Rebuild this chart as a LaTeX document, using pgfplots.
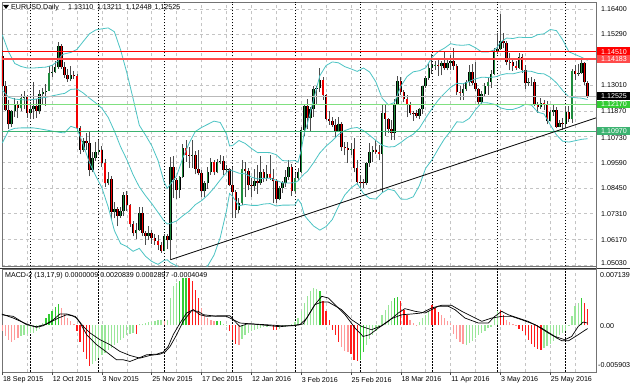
\documentclass[border=0pt]{standalone}
\usepackage{pgfplots}
\pgfplotsset{compat=1.18}
\usepackage{pgfplotstable}
\usepackage{fontspec}
\setmainfont{Liberation Sans}
\definecolor{gridc}{HTML}{C4C4C4}
\definecolor{bbc}{HTML}{4CC4C4}
\definecolor{upc}{HTML}{1E8C3C}
\definecolor{dnc}{HTML}{F00000}
\definecolor{hG}{HTML}{33CC33}
\definecolor{hg}{HTML}{99E699}
\definecolor{hR}{HTML}{FF1A1A}
\definecolor{hr}{HTML}{FF9A9A}
\definecolor{gline1}{HTML}{80E080}
\definecolor{gline2}{HTML}{3CB371}
\definecolor{lvlred}{HTML}{FF0000}
\definecolor{lvlred2}{HTML}{FF4A4A}

\pgfplotstableread{
i o h l c
0 1.1433 1.1460 1.1293 1.1300
1 1.1300 1.1320 1.1185 1.1193
2 1.1193 1.1235 1.1105 1.1128
3 1.1128 1.1190 1.1115 1.1187
4 1.1187 1.1245 1.1160 1.1218
5 1.1218 1.1230 1.1155 1.1199
6 1.1199 1.1262 1.1185 1.1244
7 1.1244 1.1277 1.1196 1.1254
8 1.1254 1.1258 1.1158 1.1177
9 1.1177 1.1226 1.1151 1.1195
10 1.1195 1.1318 1.1150 1.1210
11 1.1210 1.1240 1.1158 1.1188
12 1.1188 1.1280 1.1175 1.1263
13 1.1263 1.1290 1.1215 1.1273
14 1.1273 1.1305 1.1210 1.1277
15 1.1277 1.1385 1.1275 1.1358
16 1.1358 1.1392 1.1340 1.1359
17 1.1359 1.1410 1.1355 1.1381
18 1.1381 1.1495 1.1375 1.1474
19 1.1474 1.1485 1.1375 1.1381
20 1.1381 1.1405 1.1335 1.1348
21 1.1348 1.1375 1.1318 1.1327
22 1.1327 1.1386 1.1320 1.1345
23 1.1345 1.1364 1.1330 1.1343
24 1.1343 1.1352 1.1100 1.1110
25 1.1110 1.1122 1.0995 1.1016
26 1.1016 1.1068 1.1005 1.1056
27 1.1056 1.1090 1.1016 1.1046
28 1.1046 1.1095 1.0897 1.0925
29 1.0925 1.1005 1.0915 1.0979
30 1.0979 1.1050 1.0965 1.1005
31 1.1005 1.1060 1.0990 1.1016
32 1.1016 1.1030 1.0938 1.0957
33 1.0957 1.0975 1.0850 1.0866
34 1.0866 1.0915 1.0858 1.0884
35 1.0884 1.0897 1.0705 1.0739
36 1.0739 1.0784 1.0710 1.0752
37 1.0752 1.0762 1.0675 1.0722
38 1.0722 1.0762 1.0712 1.0742
39 1.0742 1.0829 1.0720 1.0812
40 1.0812 1.0830 1.0745 1.0770
41 1.0770 1.0775 1.0674 1.0685
42 1.0685 1.0700 1.0630 1.0644
43 1.0644 1.0690 1.0617 1.0657
44 1.0657 1.0762 1.0655 1.0733
45 1.0733 1.0760 1.0630 1.0645
46 1.0645 1.0655 1.0592 1.0634
47 1.0634 1.0675 1.0614 1.0646
48 1.0646 1.0660 1.0598 1.0623
49 1.0623 1.0640 1.0592 1.0611
50 1.0611 1.0637 1.0570 1.0592
51 1.0592 1.0605 1.0558 1.0565
52 1.0565 1.0640 1.0565 1.0630
53 1.0630 1.0640 1.0576 1.0613
54 1.0613 1.0982 1.0524 1.0940
55 1.0940 1.0985 1.0800 1.0880
56 1.0880 1.0890 1.0797 1.0836
57 1.0836 1.0900 1.0801 1.0894
58 1.0894 1.1042 1.0890 1.1022
59 1.1022 1.1059 1.0960 1.0993
60 1.0993 1.1027 1.0935 1.0990
61 1.0990 1.1058 1.0935 1.0993
62 1.0993 1.1011 1.0906 1.0930
63 1.0930 1.1012 1.0901 1.0910
64 1.0910 1.0925 1.0806 1.0830
65 1.0830 1.0875 1.0805 1.0867
66 1.0867 1.0940 1.0840 1.0918
67 1.0918 1.0980 1.0905 1.0960
68 1.0960 1.0970 1.0902 1.0915
69 1.0915 1.0975 1.0910 1.0962
70 1.0962 1.0990 1.0952 1.0967
71 1.0967 1.0988 1.0905 1.0927
72 1.0927 1.0948 1.0914 1.0930
73 1.0930 1.0935 1.0852 1.0859
74 1.0859 1.0940 1.0710 1.0828
75 1.0828 1.0834 1.0711 1.0746
76 1.0746 1.0799 1.0732 1.0778
77 1.0778 1.0971 1.0770 1.0930
78 1.0930 1.0960 1.0805 1.0921
79 1.0921 1.0935 1.0835 1.0858
80 1.0858 1.0890 1.0805 1.0853
81 1.0853 1.0930 1.0832 1.0876
82 1.0876 1.0947 1.0820 1.0867
83 1.0867 1.0985 1.0860 1.0915
84 1.0915 1.0930 1.0870 1.0890
85 1.0890 1.0946 1.0874 1.0907
86 1.0907 1.0990 1.0880 1.0891
87 1.0891 1.0928 1.0778 1.0875
88 1.0875 1.0887 1.0780 1.0797
89 1.0797 1.0855 1.0790 1.0847
90 1.0847 1.0876 1.0822 1.0867
91 1.0867 1.0925 1.0850 1.0894
92 1.0894 1.0970 1.0880 1.0940
93 1.0940 1.0950 1.0810 1.0830
94 1.0830 1.0910 1.0820 1.0888
95 1.0888 1.0935 1.0875 1.0918
96 1.0918 1.1117 1.0910 1.1104
97 1.1104 1.1215 1.1075 1.1211
98 1.1211 1.1240 1.1105 1.1155
99 1.1155 1.1205 1.1095 1.1195
100 1.1195 1.1297 1.1160 1.1285
101 1.1285 1.1300 1.1217 1.1288
102 1.1288 1.1376 1.1270 1.1325
103 1.1325 1.1340 1.1238 1.1257
104 1.1257 1.1262 1.1145 1.1153
105 1.1153 1.1188 1.1125 1.1144
106 1.1144 1.1160 1.1115 1.1127
107 1.1127 1.1150 1.1067 1.1099
108 1.1099 1.1160 1.1095 1.1130
109 1.1130 1.1140 1.1010 1.1026
110 1.1026 1.1048 1.0990 1.1021
111 1.1021 1.1050 1.0958 1.1016
112 1.1016 1.1045 1.0990 1.1019
113 1.1019 1.1068 1.0915 1.0933
114 1.0933 1.0968 1.0860 1.0873
115 1.0873 1.0903 1.0845 1.0870
116 1.0870 1.0883 1.0844 1.0866
117 1.0866 1.0962 1.0860 1.0956
118 1.0956 1.1044 1.0940 1.1004
119 1.1004 1.1030 1.0960 1.1015
120 1.1015 1.1060 1.0995 1.1006
121 1.1006 1.1035 1.0968 1.0996
122 1.0996 1.1218 1.0822 1.1178
123 1.1178 1.1218 1.1077 1.1152
124 1.1152 1.1155 1.1090 1.1105
125 1.1105 1.1148 1.1060 1.1090
126 1.1090 1.1242 1.1058 1.1220
127 1.1220 1.1342 1.1215 1.1321
128 1.1321 1.1340 1.1258 1.1270
129 1.1270 1.1280 1.1225 1.1240
130 1.1240 1.1260 1.1160 1.1220
131 1.1220 1.1225 1.1170 1.1180
132 1.1180 1.1185 1.1144 1.1178
133 1.1178 1.1190 1.1155 1.1165
134 1.1165 1.1200 1.1150 1.1196
135 1.1196 1.1298 1.1175 1.1296
136 1.1296 1.1342 1.1290 1.1333
137 1.1333 1.1400 1.1325 1.1380
138 1.1380 1.1438 1.1350 1.1392
139 1.1392 1.1410 1.1370 1.1393
140 1.1393 1.1418 1.1343 1.1386
141 1.1386 1.1410 1.1345 1.1399
142 1.1399 1.1453 1.1370 1.1376
143 1.1376 1.1420 1.1368 1.1398
144 1.1398 1.1436 1.1370 1.1411
145 1.1411 1.1465 1.1370 1.1387
146 1.1387 1.1394 1.1260 1.1271
147 1.1271 1.1300 1.1234 1.1269
148 1.1269 1.1310 1.1235 1.1283
149 1.1283 1.1325 1.1275 1.1314
150 1.1314 1.1390 1.1300 1.1361
151 1.1361 1.1395 1.1301 1.1311
152 1.1311 1.1405 1.1275 1.1285
153 1.1285 1.1290 1.1215 1.1225
154 1.1225 1.1275 1.1220 1.1264
155 1.1264 1.1310 1.1255 1.1299
156 1.1299 1.1335 1.1260 1.1315
157 1.1315 1.1370 1.1290 1.1353
158 1.1353 1.1465 1.1345 1.1453
159 1.1453 1.1535 1.1440 1.1462
160 1.1462 1.1616 1.1460 1.1497
161 1.1497 1.1535 1.1465 1.1490
162 1.1490 1.1497 1.1390 1.1404
163 1.1404 1.1445 1.1368 1.1403
164 1.1403 1.1418 1.1365 1.1385
165 1.1385 1.1410 1.1370 1.1380
166 1.1380 1.1445 1.1375 1.1428
167 1.1428 1.1440 1.1355 1.1368
168 1.1368 1.1390 1.1285 1.1310
169 1.1310 1.1335 1.1297 1.1314
170 1.1314 1.1340 1.1297 1.1314
171 1.1314 1.1330 1.1210 1.1219
172 1.1219 1.1229 1.1180 1.1203
173 1.1203 1.1245 1.1195 1.1223
174 1.1223 1.1236 1.1190 1.1218
175 1.1218 1.1231 1.1128 1.1141
176 1.1141 1.1190 1.1141 1.1181
177 1.1181 1.1215 1.1165 1.1192
178 1.1192 1.1205 1.1110 1.1115
179 1.1115 1.1148 1.1115 1.1135
180 1.1135 1.1155 1.1104 1.1131
181 1.1131 1.1210 1.1110 1.1182
182 1.1182 1.1210 1.1140 1.1151
183 1.1151 1.1375 1.1135 1.1366
184 1.1366 1.1392 1.1325 1.1353
185 1.1353 1.1395 1.1342 1.1357
186 1.1357 1.1416 1.1352 1.1398
187 1.1398 1.1405 1.1301 1.1314
188 1.1311 1.1321 1.1245 1.12525
}\ohlc

\pgfplotstableread{
i u m l
0 1.1525 1.1280 1.1045
2 1.1450 1.1248 1.1100
4 1.1398 1.1240 1.1110
6 1.1385 1.1237 1.1112
8 1.1378 1.1236 1.1112
10 1.1378 1.1238 1.1112
12 1.1380 1.1243 1.1108
14 1.1382 1.1248 1.1103
16 1.1390 1.1254 1.1098
18 1.1410 1.1260 1.1093
19 1.1435 1.1263 1.1091
20 1.1441 1.1265 1.1090
22 1.1447 1.1283 1.1119
24 1.1461 1.1285 1.1110
26 1.1496 1.1267 1.1037
28 1.1530 1.1244 1.0958
30 1.1547 1.1223 1.0899
32 1.1552 1.1199 1.0846
34 1.1556 1.1159 1.0761
36 1.1539 1.1098 1.0656
38 1.1458 1.1028 1.0598
40 1.1357 1.0971 1.0585
42 1.1243 1.0904 1.0564
44 1.1124 1.0850 1.0577
46 1.1080 1.0811 1.0542
48 1.1033 1.0776 1.0519
50 1.0968 1.0737 1.0506
52 1.0871 1.0698 1.0524
53 1.0844 1.0685 1.0526
54 1.0862 1.0688 1.0514
56 1.0899 1.0699 1.0499
58 1.0979 1.0722 1.0464
60 1.1044 1.0742 1.0439
62 1.1096 1.0771 1.0447
64 1.1114 1.0789 1.0464
66 1.1128 1.0814 1.0500
68 1.1142 1.0845 1.0547
70 1.1136 1.0881 1.0625
72 1.1085 1.0914 1.0743
73 1.1032 1.0926 1.0821
74 1.1034 1.0921 1.0807
76 1.1056 1.0911 1.0766
78 1.1043 1.0908 1.0772
80 1.1021 1.0894 1.0768
82 1.1002 1.0885 1.0768
84 1.1003 1.0888 1.0774
86 1.1002 1.0889 1.0776
88 1.0993 1.0879 1.0765
90 1.0967 1.0868 1.0769
92 1.0965 1.0867 1.0769
94 1.0967 1.0869 1.0770
95 1.0960 1.0877 1.0795
96 1.1012 1.0893 1.0775
97 1.1090 1.0908 1.0725
98 1.1131 1.0919 1.0707
100 1.1239 1.0958 1.0676
102 1.1344 1.1001 1.0658
104 1.1389 1.1031 1.0674
106 1.1405 1.1055 1.0705
108 1.1401 1.1083 1.0764
110 1.1384 1.1100 1.0814
112 1.1374 1.1110 1.0845
114 1.1363 1.1114 1.0865
116 1.1378 1.1100 1.0821
118 1.1360 1.1079 1.0799
120 1.1316 1.1056 1.0796
122 1.1244 1.1035 1.0824
124 1.1214 1.1027 1.0840
126 1.1225 1.1029 1.0833
128 1.1297 1.1047 1.0796
130 1.1340 1.1068 1.0795
132 1.1361 1.1084 1.0806
134 1.1366 1.1111 1.0857
136 1.1379 1.1156 1.0933
138 1.1424 1.1197 1.0970
140 1.1451 1.1235 1.1018
142 1.1466 1.1265 1.1063
144 1.1486 1.1292 1.1098
146 1.1480 1.1310 1.1139
148 1.1479 1.1308 1.1137
150 1.1482 1.1318 1.1154
152 1.1468 1.1330 1.1193
154 1.1449 1.1337 1.1224
156 1.1449 1.1336 1.1223
158 1.1458 1.1338 1.1217
159 1.1471 1.1341 1.1211
160 1.1492 1.1347 1.1201
162 1.1511 1.1353 1.1194
164 1.1509 1.1352 1.1194
166 1.1515 1.1359 1.1203
168 1.1513 1.1365 1.1217
170 1.1513 1.1363 1.1213
172 1.1526 1.1354 1.1182
174 1.1530 1.1352 1.1174
176 1.1549 1.1337 1.1126
178 1.1544 1.1312 1.1081
180 1.1503 1.1278 1.1053
182 1.1450 1.1250 1.1049
184 1.1438 1.1246 1.1055
186 1.1426 1.1244 1.1061
188 1.1412 1.1238 1.1064
}\bb

\begin{document}
\begin{tikzpicture}[x=1pt,y=1pt,font=\fontsize{7.1}{8}\selectfont]
\fill[white] (0,0) rectangle (630,388);
% ---------------- main price panel
\begin{axis}[
  at={(2pt,121.5pt)}, anchor=south west,
  clip bounding box=upper bound,
  scale only axis, width=594pt, height=264.5pt,
  xmin=-0.1, xmax=190.7, ymin=1.04965, ymax=1.16711,
  axis line style={draw=black!55, line width=0.8pt},
  xtick={0,8,...,184}, xticklabels={},
  ytick={1.0503,1.0617,1.0731,1.0845,1.0959,1.1073,1.1187,1.1301,1.1415,1.1529,1.1640},
  yticklabels={},
  major tick length=0pt,
  xmajorgrids, ymajorgrids,
  grid style={gridc, dash pattern=on 3pt off 3pt, line width=0.6pt},
  extra x ticks={9,31,52,74,94,115,138,159,181}, extra x tick labels={},
  extra x tick style={grid style={black, dash pattern=on 1.5pt off 1.5pt, line width=0.7pt}},
]
% wicks
\addplot[black!70, line width=0.9pt, mark=none, quiver={u=0, v={\thisrow{h}-\thisrow{l}}}]
  table[x=i, y=l] {\ohlc};
% body outline
\addplot[black, line width=2.5pt, mark=none, quiver={u=0, v={abs(\thisrow{c}-\thisrow{o})}}]
  table[x=i, y expr={min(\thisrow{o},\thisrow{c})}] {\ohlc};
% red fill (all)
\addplot[dnc, line width=1.1pt, mark=none, quiver={u=0, v={abs(\thisrow{c}-\thisrow{o})}}]
  table[x=i, y expr={min(\thisrow{o},\thisrow{c})}] {\ohlc};
% green fill (up candles)
\addplot[upc, line width=1.1pt, mark=none, quiver={u=0, v={max(\thisrow{c}-\thisrow{o},0)}}]
  table[x=i, y=o] {\ohlc};
% Bollinger
\addplot[bbc, line width=0.8pt] table[x=i,y=u] {\bb};
\addplot[bbc, line width=0.8pt] table[x=i,y=m] {\bb};
\addplot[bbc, line width=0.8pt] table[x=i,y=l] {\bb};
% horizontal levels
\addplot[draw=gray!55, line width=0.8pt] coordinates {(-0.1,1.12525) (190.7,1.12525)};
\addplot[draw=gline1, line width=1.4pt] coordinates {(-0.1,1.12170) (190.7,1.12170)};
\addplot[draw=gline2, line width=1.1pt] coordinates {(-0.1,1.10970) (190.7,1.10970)};
\addplot[draw=lvlred2, line width=1.5pt] coordinates {(-0.1,1.14183) (190.7,1.14183)};
\addplot[draw=lvlred, line width=1.0pt] coordinates {(-0.1,1.14510) (190.7,1.14510)};
% trend line
\addplot[black, line width=0.8pt] coordinates {(54.1,1.05269) (190.7,1.11566)};
\end{axis}

% ---------------- MACD panel
\begin{axis}[
  at={(2pt,16pt)}, anchor=south west,
  clip bounding box=upper bound,
  scale only axis, width=594pt, height=103pt,
  xmin=-0.1, xmax=190.7, ymin=-0.005903, ymax=0.007139,
  axis line style={draw=black!55, line width=0.8pt},
  xtick={0,8,...,184}, xticklabels={},
  ytick=\empty,
  major tick length=0pt,
  xmajorgrids,
  grid style={gridc, dash pattern=on 3pt off 3pt, line width=0.6pt},
  extra x ticks={9,31,52,74,94,115,138,159,181}, extra x tick labels={},
  extra x tick style={grid style={black, dash pattern=on 1.5pt off 1.5pt, line width=0.7pt}},
]
\addplot[ycomb, hr, line width=1.3pt] coordinates {
(0,-0.00072)(1,-0.00135)(2,-0.00190)(3,-0.00207)(4,-0.00190)(5,-0.00165)
(19,0.00224)(20,0.00148)(21,0.00097)(22,0.00055)(23,0.00021)
(52,0.00055)(64,0.00220)(65,0.00135)(66,0.00093)(67,0.00072)(68,0.00051)(76,-0.00254)
(109,-0.00279)(110,-0.00321)(111,-0.00338)(131,0.00072)(132,0.00030)(133,0.00008)
(141,0.00127)(142,0.00093)(143,0.00059)(144,0.00030)(145,-0.00110)(146,-0.00169)(147,-0.00212)(148,-0.00237)
(162,0.00072)(163,0.00042)(164,0.00017)(165,-0.00008)};
\addplot[ycomb, hR, line width=1.3pt] coordinates {
(24,-0.00072)(25,-0.00207)(26,-0.00334)(27,-0.00431)(28,-0.00516)(43,-0.00114)
(60,0.00601)(61,0.00558)(62,0.00453)(63,0.00347)(73,-0.00076)(74,-0.00182)(75,-0.00237)
(87,-0.00055)(88,-0.00063)(103,0.00305)(104,0.00178)(105,0.00072)(106,-0.00055)(107,-0.00127)(108,-0.00212)
(112,-0.00364)(113,-0.00436)(114,-0.00457)(128,0.00305)(129,0.00199)(130,0.00135)
(138,0.00262)(139,0.00220)(140,0.00169)(160,0.00199)(161,0.00135)
(166,-0.00042)(167,-0.00076)(168,-0.00127)(169,-0.00182)(170,-0.00237)(171,-0.00279)(172,-0.00296)(173,-0.00309)
(187,0.00283)(188,0.00208)};
\addplot[ycomb, hg, line width=1.3pt] coordinates {
(6,-0.00135)(7,-0.00123)(8,-0.00114)(9,-0.00093)(10,-0.00093)(11,-0.00072)(12,-0.00051)(13,0.00034)
(29,-0.00486)(30,-0.00453)(31,-0.00410)(32,-0.00376)(33,-0.00347)(34,-0.00317)(35,-0.00283)(36,-0.00254)
(37,-0.00224)(38,-0.00190)(39,-0.00157)(40,-0.00123)(41,-0.00106)(42,-0.00097)
(44,0.00013)(45,0.00021)(46,0.00030)(47,0.00038)(48,0.00047)(49,0.00055)(50,0.00063)(51,0.00072)(53,0.00072)
(54,0.00347)(55,0.00495)(56,0.00537)(71,0.00017)(72,0.00004)
(77,-0.00169)(78,-0.00118)(79,-0.00097)(80,-0.00076)(81,-0.00059)(82,-0.00047)(83,-0.00034)(84,-0.00025)(85,-0.00017)(86,-0.00008)
(89,-0.00042)(90,-0.00025)(91,-0.00017)(92,-0.00004)(93,0.00017)(94,0.00042)(95,0.00093)(96,0.00178)(97,0.00283)(98,0.00368)(99,0.00431)(100,0.00474)(101,0.00465)
(117,-0.00245)(118,-0.00169)(119,-0.00118)(120,-0.00076)(121,-0.00034)(122,0.00135)(123,0.00199)(124,0.00262)(125,0.00313)
(134,0.00042)(135,0.00093)(136,0.00135)(137,0.00178)
(149,-0.00245)(150,-0.00224)(151,-0.00195)(152,-0.00161)(153,-0.00127)(154,-0.00097)(155,-0.00068)(156,-0.00034)(157,-0.00017)(158,0.00093)(159,0.00178)
(174,-0.00288)(175,-0.00266)(176,-0.00237)(177,-0.00203)(178,-0.00169)(179,-0.00127)(180,-0.00097)(181,-0.00068)(182,-0.00013)(183,0.00114)(184,0.00241)(185,0.00283)};
\addplot[ycomb, hG, line width=1.3pt] coordinates {
(14,0.00097)(15,0.00140)(16,0.00182)(17,0.00233)(18,0.00267)(57,0.00558)(58,0.00601)(59,0.00601)
(69,0.00059)(70,0.00051)(102,0.00440)(115,-0.00436)(116,-0.00338)(126,0.00347)(127,0.00355)(186,0.00347)};
% MACD lines
\addplot[black, line width=0.7pt] coordinates {
(-0.2,0.00144)(3.5,0.00093)(7.8,0.00017)(11,-0.00025)(13.2,-0.00004)(16.4,0.00072)(18.5,0.00144)(20.7,0.00144)
(22.3,0.00127)(23.9,0.00093)(26,-0.00013)(28.2,-0.00097)(31.4,-0.00182)(34.6,-0.00245)(37.8,-0.00330)(41,-0.00381)
(44.2,-0.00415)(47.4,-0.00381)(50.7,-0.00364)(52.3,-0.00338)(53.9,-0.00266)(56,-0.00118)(58.1,0.00051)(60.8,0.00186)
(62.9,0.00178)(64.6,0.00135)(68.9,0.00114)(72,0.00114)(74.2,0.00072)(76.3,0.00030)(80.6,0.00017)(84.9,0.00008)
(89.2,-0.00004)(93.5,-0.00004)(95.6,0.00008)(97.8,0.00093)(100.4,0.00262)(102.6,0.00368)(104.7,0.00347)(106.9,0.00262)
(110.1,0.00135)(113.3,-0.00034)(115.9,-0.00140)(118,-0.00118)(120.8,-0.00034)(124,0.00051)(127.2,0.00157)(129.3,0.00212)
(132.6,0.00178)(135.8,0.00157)(137.9,0.00199)(140,0.00241)(143.3,0.00241)(145.4,0.00199)(148.6,0.00093)(152.9,0.00030)
(156.1,0.00030)(158.2,0.00114)(160.4,0.00178)(162.5,0.00135)(165.7,0.00093)(168.9,0.00051)(173.2,-0.00034)(177.5,-0.00140)
(180.7,-0.00182)(182.9,-0.00140)(185,-0.00013)(186.6,0.00042)(188,0.00029)};
\addplot[black, line width=0.7pt] coordinates {
(-0.2,0.00135)(3.5,0.00114)(7.8,0.00008)(11,-0.00017)(14.3,0.00017)(18,0.00093)(20.7,0.00135)(23.4,0.00114)
(25,0.00030)(27.1,-0.00118)(30.3,-0.00245)(33.5,-0.00338)(36.7,-0.00436)(38.9,-0.00436)(41,-0.00457)(43.2,-0.00423)
(46.4,-0.00372)(49.6,-0.00364)(51.7,-0.00338)(53.3,-0.00266)(54.9,-0.00118)(57.1,0.00030)(59.2,0.00157)(61.4,0.00199)
(63.5,0.00135)(65.6,0.00114)(70,0.00123)(73.1,0.00123)(74.7,0.00051)(76.3,-0.00013)(78.5,0.00017)(80.6,0.00017)
(84.9,0)(89.2,-0.00017)(93.5,0)(96.6,0.00017)(100.4,0.00262)(102.6,0.00296)(104.7,0.00296)(109,0.00199)
(112.2,0.00072)(115.4,-0.00013)(118.6,-0.00055)(121.8,-0.00004)(125,0.00085)(128.3,0.00135)(131.5,0.00144)(134.7,0.00157)
(137.9,0.00220)(141.1,0.00254)(144.3,0.00254)(147.6,0.00178)(150.8,0.00114)(154,0.00051)(157.2,0.00093)(160.4,0.00114)
(163.6,0.00114)(166.8,0.00072)(171.2,0.00008)(175.4,-0.00097)(179.7,-0.00195)(181.9,-0.00195)(185,-0.00118)(188,-0.00040)};
\end{axis}

% separators
\draw[black!80, line width=1.6pt] (0,119.3) -- (630,119.3);
\draw[black!55, line width=0.8pt] (596,16) -- (596,386);

% header
\fill[black] (3,383) -- (9,383) -- (6,379) -- cycle;
\node[anchor=west, inner sep=0pt] at (11,380.5) {EURUSD,Daily};
\node[anchor=west, inner sep=0pt] at (68,380.5) {1.13110};
\node[anchor=west, inner sep=0pt] at (96.8,380.5) {1.13211};
\node[anchor=west, inner sep=0pt] at (125.6,380.5) {1.12448};
\node[anchor=west, inner sep=0pt] at (154.4,380.5) {1.12525};
\node[anchor=west, inner sep=0pt] at (5,112) {MACD-2 (13,17,9) 0.0000009 0.0020839 0.0002897 -0.0004049};

% price scale labels
\foreach \yy/\tt in {379/1.16400, 354/1.15290, 302.5/1.13010, 276.8/1.11870, 249.8/1.10730, 225.4/1.09590, 199.7/1.08450, 174/1.07310, 148.3/1.06170, 124.5/1.05030}
  \node[anchor=west, inner sep=0pt] at (601,\yy) {\tt};
\fill[lvlred] (597,332.2) rectangle (630,340.6);
\node[anchor=west, inner sep=0pt, white] at (601,336.4) {1.14510};
\fill[lvlred2] (597,324.6) rectangle (630,332.6);
\node[anchor=west, inner sep=0pt, white] at (601,328.8) {1.14183};
\fill[black] (597,287.6) rectangle (630,295.6);
\node[anchor=west, inner sep=0pt, white] at (601,291.6) {1.12525};
\fill[hG] (597,279.6) rectangle (630,287.4);
\node[anchor=west, inner sep=0pt, white] at (601,283.5) {1.12170};
\fill[gline2] (597,253) rectangle (630,260.5);
\node[anchor=west, inner sep=0pt, white] at (601,256.7) {1.10970};

% MACD scale labels
\node[anchor=west, inner sep=0pt] at (600,113) {0.007139};
\node[anchor=west, inner sep=0pt] at (600,62) {0.00};
\node[anchor=west, inner sep=0pt] at (598,23) {-0.005903};

% date labels
\foreach \xx/\tt in {2.3/18 Sep 2015, 52.1/12 Oct 2015, 101.9/3 Nov 2015, 151.7/25 Nov 2015, 201.5/17 Dec 2015, 251.3/12 Jan 2016, 301.1/3 Feb 2016, 350.9/25 Feb 2016, 400.8/18 Mar 2016, 450.6/11 Apr 2016, 500.4/3 May 2016, 550.2/25 May 2016}
{ \draw[black!70, line width=0.6pt] (\xx,16) -- (\xx,12.5);
  \node[anchor=west, inner sep=0pt] at (\xx+0.5,8.5) {\tt}; }
\pgfresetboundingbox
\path[use as bounding box] (0,0) rectangle (630,388);
\end{tikzpicture}
\end{document}
